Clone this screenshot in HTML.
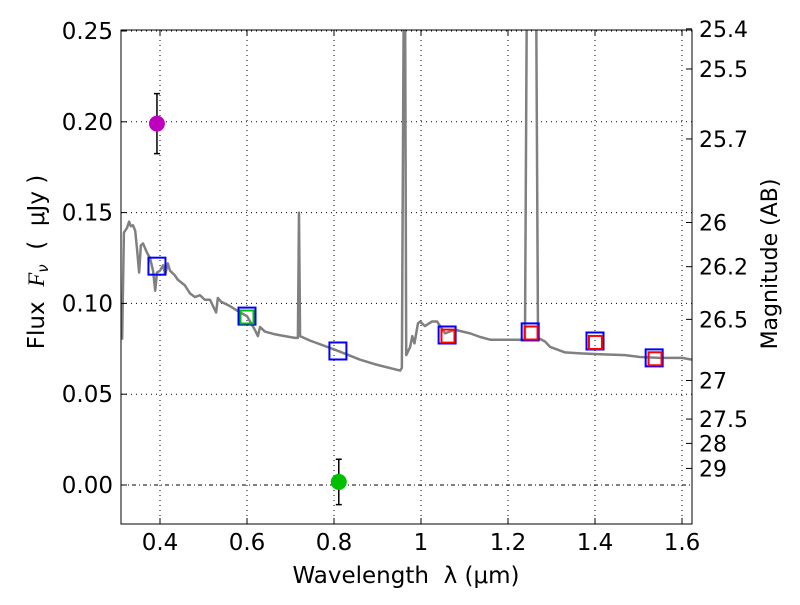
<!DOCTYPE html>
<html><head><meta charset="utf-8"><style>
body{margin:0;background:#fff;}
svg text{font-family:"DejaVu Sans","Liberation Sans",sans-serif;fill:#000;white-space:pre;}
</style></head><body>
<svg id="chart" width="800" height="600" xmlns="http://www.w3.org/2000/svg"></svg>
<script>
const specLam=[0.313,0.317,0.324,0.329,0.333,0.338,0.343,0.347,0.352,0.356,0.361,0.370,0.377,0.384,0.389,0.393,0.400,0.407,0.412,0.418,0.423,0.434,0.441,0.457,0.469,0.480,0.492,0.503,0.515,0.529,0.533,0.540,0.561,0.584,0.600,0.618,0.625,0.630,0.641,0.664,0.687,0.710,0.717,0.7195,0.722,0.745,0.802,0.860,0.894,0.952,0.956,0.961,0.963,0.966,0.975,0.980,0.985,0.993,0.998,1.009,1.025,1.037,1.055,1.078,1.113,1.136,1.159,1.182,1.216,1.232,1.239,1.244,1.264,1.269,1.285,1.297,1.331,1.366,1.411,1.469,1.503,1.549,1.600,1.623];
const specFlux=[0.080,0.139,0.1415,0.145,0.1425,0.143,0.140,0.1305,0.117,0.132,0.133,0.128,0.125,0.118,0.107,0.117,0.118,0.121,0.116,0.122,0.118,0.1155,0.113,0.110,0.1055,0.1035,0.1045,0.102,0.102,0.095,0.103,0.101,0.0985,0.095,0.093,0.0855,0.082,0.087,0.0845,0.083,0.082,0.081,0.081,0.150,0.082,0.0795,0.0745,0.069,0.0665,0.063,0.0645,0.30,0.30,0.0715,0.076,0.082,0.078,0.089,0.090,0.0875,0.090,0.090,0.0835,0.0855,0.0835,0.0815,0.080,0.080,0.080,0.080,0.080,0.30,0.30,0.081,0.079,0.076,0.073,0.0725,0.072,0.0715,0.0705,0.070,0.070,0.069];
const bandLam=[0.393,0.600,0.809,1.060,1.251,1.400,1.536];
const bandFlux=[0.1205,0.093,0.0738,0.0826,0.0843,0.0793,0.070];
const redLam=[1.062,1.253,1.401,1.538];
const redFlux=[0.082,0.0837,0.0785,0.0695];
const greenSqLam=[0.600];
const greenSqFlux=[0.0925];
const ptLam=[0.393,0.811];
const ptFlux=[0.199,0.0017];
const ptErr=[0.0165,0.0125];
const ptColor=['#bf00bf','#00bf00'];
const xTicks=[0.4,0.6,0.8,1.0,1.2,1.4,1.6];
const xTickLabels=['0.4','0.6','0.8','1','1.2','1.4','1.6'];
const yTicks=[0,0.05,0.10,0.15,0.20,0.25];
const yTickLabels=['0.00','0.05','0.10','0.15','0.20','0.25'];
const magTicks=[25.4,25.5,25.7,26,26.2,26.5,27,27.5,28,29];
const magTickLabels=['25.4','25.5','25.7','26','26.2','26.5','27','27.5','28','29'];

const L=121,R=692,T=30,B=524;
const X=l=>160+(l-0.4)*435;
const Y=f=>485-f*1816;
const svg=document.getElementById('chart');
const NS='http://www.w3.org/2000/svg';
function mk(tag,attrs,parent){const e=document.createElementNS(NS,tag);for(const k in attrs)e.setAttribute(k,attrs[k]);(parent||svg).appendChild(e);return e;}
const defs=mk('defs',{});
const cp=mk('clipPath',{id:'clip'},defs);mk('rect',{x:L,y:T,width:R-L,height:B-T},cp);
const g=mk('g',{'clip-path':'url(#clip)'});


xTicks.forEach(v=>{const l=mk('line',{x1:X(v),x2:X(v),y1:T,y2:B,stroke:'#000','stroke-width':1,'stroke-dasharray':'1,4'},g);

});
yTicks.forEach(v=>{const l=mk('line',{x1:L,x2:R,y1:Y(v),y2:Y(v),stroke:'#000','stroke-width':1,'stroke-dasharray':v===0?'4,3,1,3':'1,4'},g);

});
const sp=mk('polyline',{points:specLam.map((l,i)=>X(l)+','+Y(specFlux[i])).join(' '),fill:'none',stroke:'#808080','stroke-width':2.5,'stroke-linejoin':'round'},g);


function sq(l,f,s,c,name){const r=mk('rect',{x:X(l)-s/2,y:Y(f)-s/2,width:s,height:s,fill:'none',stroke:c,'stroke-width':2},g);

}
bandLam.forEach((l,i)=>sq(l,bandFlux[i],17,'#0000ff','band-flux-marker'));
redLam.forEach((l,i)=>sq(l,redFlux[i],13,'#ff0000','observed-flux-marker'));
greenSqLam.forEach((l,i)=>sq(l,greenSqFlux[i],13,'#00bf00','green-flux-marker'));
ptLam.forEach((l,i)=>{const x=X(l);
const e=mk('path',{d:`M${x},${Y(ptFlux[i]+ptErr[i])}V${Y(ptFlux[i]-ptErr[i])}M${x-3},${Y(ptFlux[i]+ptErr[i])}h6M${x-3},${Y(ptFlux[i]-ptErr[i])}h6`,stroke:'#000','stroke-width':1.5,fill:'none'},g);


const c=mk('circle',{cx:x,cy:Y(ptFlux[i]),r:8,fill:ptColor[i]},g);

});
const fr=mk('rect',{x:L,y:T,width:R-L,height:B-T,fill:'none',stroke:'#000','stroke-width':1});


xTicks.forEach((v,i)=>{mk('path',{d:`M${X(v)},${B}v-6M${X(v)},${T}v6`,stroke:'#000'});
const t=mk('text',{x:X(v),y:B+26,'font-size':23,'text-anchor':'middle'});t.textContent=xTickLabels[i];

});
yTicks.forEach((v,i)=>{mk('path',{d:`M${L},${Y(v)}h6`,stroke:'#000'});
const t=mk('text',{x:L-8,y:Y(v)+8,'font-size':23,'text-anchor':'end'});t.textContent=yTickLabels[i];

});
magTicks.forEach((m,i)=>{const y=Y(Math.pow(10,(23.9-m)/2.5));mk('path',{d:`M${R},${y}h-6`,stroke:'#000'});
const t=mk('text',{x:R+7,y:y+8,'font-size':22});t.textContent=magTickLabels[i];

});
let t=mk('text',{x:406,y:583,'font-size':23,'text-anchor':'middle'});t.textContent='Wavelength  λ (μm)';


t=mk('text',{x:0,y:0,'font-size':23,'text-anchor':'middle',transform:'translate(44,262) rotate(-90)'});t.innerHTML='Flux  <tspan font-style="italic" font-family="Liberation Serif">F</tspan><tspan font-size="15" font-style="italic" dy="4">ν</tspan><tspan dy="-4">  (  μJy )</tspan>';


t=mk('text',{x:0,y:0,'font-size':22,'text-anchor':'middle',transform:'translate(777,264) rotate(-90)'});t.textContent='Magnitude (AB)';


</script>
</body></html>
